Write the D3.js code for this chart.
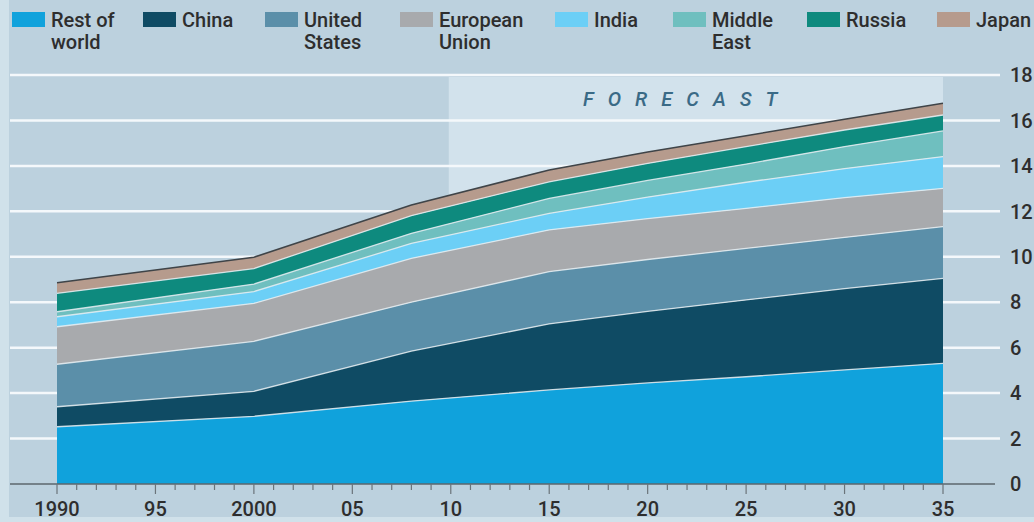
<!DOCTYPE html>
<html>
<head>
<meta charset="utf-8">
<title>Energy demand by region</title>
<script src="https://d3js.org/d3.v7.min.js"></script>
<style>
  body { margin: 0; background: #bcd1de; }
  svg { display: block; font-family: Roboto, "Open Sans", sans-serif; font-weight: 500; }
</style>
</head>
<body>
<script>

// years with data points (forecast from 2010 on)
var years = [1990, 2000, 2008, 2015, 2020, 2025, 2030, 2035];

// values, bottom band first
var restOfWorld  = [2.52, 2.98, 3.65, 4.14, 4.45, 4.72, 5.02, 5.31];
var china        = [0.88, 1.10, 2.20, 2.91, 3.15, 3.38, 3.58, 3.74];
var unitedStates = [1.87, 2.20, 2.15, 2.30, 2.28, 2.27, 2.25, 2.28];
var europeanUnion= [1.65, 1.67, 1.93, 1.83, 1.80, 1.76, 1.75, 1.68];
var india        = [0.44, 0.52, 0.66, 0.73, 0.95, 1.15, 1.28, 1.40];
var middleEast   = [0.22, 0.33, 0.44, 0.66, 0.73, 0.80, 0.97, 1.13];
var russia       = [0.81, 0.68, 0.78, 0.73, 0.75, 0.77, 0.73, 0.70];
var japan        = [0.47, 0.50, 0.47, 0.52, 0.50, 0.48, 0.47, 0.52];

var seriesNames = ["Rest of world", "China", "United States", "European Union",
                   "India", "Middle East", "Russia", "Japan"];
var legendLines = [["Rest of", "world"], ["China"], ["United", "States"], ["European", "Union"],
                   ["India"], ["Middle", "East"], ["Russia"], ["Japan"]];
var colours = ["#10a2dc", "#0f4b64", "#5b8fa9", "#a8aaad",
               "#6ccff6", "#6fbfbf", "#0e8a7e", "#b69b8d"];

var yTicks = [0, 2, 4, 6, 8, 10, 12, 14, 16, 18];
var xMajor = [1990, 1995, 2000, 2005, 2010, 2015, 2020, 2025, 2030, 2035];
var xLabels = ["1990", "95", "2000", "05", "10", "15", "20", "25", "30", "35"];
var forecastStart = 2010;

var w = 1034, h = 522;

// build the table d3.stack wants
var cols = [restOfWorld, china, unitedStates, europeanUnion, india, middleEast, russia, japan];
var table = years.map(function(yr, i) {
  var row = { year: yr };
  seriesNames.forEach(function(n, j) { row[n] = cols[j][i]; });
  return row;
});

var x = d3.scaleLinear().domain([1990, 2035]).range([57, 943]);
var y = d3.scaleLinear().domain([0, 18]).range([484, 75]);

var svg = d3.select("body").append("svg").attr("width", w).attr("height", h);

// lighter border strips at the left and bottom edge
svg.append("rect").attr("x", 0).attr("y", 0).attr("width", 9).attr("height", h).attr("fill", "#d0e1ea");
svg.append("rect").attr("x", 0).attr("y", 517).attr("width", w).attr("height", h - 517).attr("fill", "#d0e1ea");

// forecast panel
svg.append("rect")
  .attr("x", x(forecastStart) - 2)
  .attr("y", y(18) + 2)
  .attr("width", x(2035) - x(forecastStart) + 2)
  .attr("height", y(0) - y(18) - 2)
  .attr("fill", "#d2e2ec");

svg.append("text")
  .attr("x", 583)
  .attr("y", 106)
  .attr("font-size", "20px")
  .attr("font-style", "italic")
  .attr("letter-spacing", "14px")
  .attr("fill", "#3a6a86")
  .text("FORECAST");

// gridlines
svg.selectAll("line.grid").data(yTicks.slice(1)).enter().append("line")
  .attr("class", "grid")
  .attr("x1", 10).attr("x2", 1000)
  .attr("y1", function(d) { return y(d); })
  .attr("y2", function(d) { return y(d); })
  .attr("stroke", "#f4f8fb")
  .attr("stroke-width", 2.5);

// stacked areas
var stack = d3.stack().keys(seriesNames);
var layers = stack(table);

var area = d3.area()
  .x(function(d) { return x(d.data.year); })
  .y0(function(d) { return y(d[0]); })
  .y1(function(d) { return y(d[1]); });

var line = d3.line()
  .x(function(d) { return x(d.data.year); })
  .y(function(d) { return y(d[1]); });

svg.selectAll("path.layer").data(layers).enter().append("path")
  .attr("class", "layer")
  .attr("d", area)
  .attr("fill", function(d, i) { return colours[i]; });

// thin light separators between bands
svg.selectAll("path.sep").data(layers.slice(0, layers.length - 1)).enter().append("path")
  .attr("class", "sep")
  .attr("d", line)
  .attr("fill", "none")
  .attr("stroke", "#e8eef2")
  .attr("stroke-width", 1.3)
  .attr("stroke-opacity", 0.85);

// dark line along the top
svg.append("path")
  .attr("d", line(layers[layers.length - 1]))
  .attr("fill", "none")
  .attr("stroke", "#3f4448")
  .attr("stroke-width", 1.6);

// y labels on the right
svg.selectAll("text.ylab").data(yTicks).enter().append("text")
  .attr("class", "ylab")
  .attr("x", 1010)
  .attr("y", function(d) { return y(d); })
  .attr("dy", "0.36em")
  .attr("font-size", "20px")
  .attr("fill", "#2e2e2e")
  .text(function(d) { return d; });

// x axis line and ticks
svg.append("line")
  .attr("x1", 10).attr("x2", 995)
  .attr("y1", y(0)).attr("y2", y(0))
  .attr("stroke", "#5d666d")
  .attr("stroke-width", 1.5);

svg.selectAll("line.minor").data(d3.range(1990, 2036)).enter().append("line")
  .attr("class", "minor")
  .attr("x1", function(d) { return x(d); })
  .attr("x2", function(d) { return x(d); })
  .attr("y1", y(0))
  .attr("y2", function(d) { return d % 5 === 0 ? y(0) + 10 : y(0) + 6; })
  .attr("stroke", "#6b747a")
  .attr("stroke-width", 1.2);

svg.selectAll("text.xlab").data(xMajor).enter().append("text")
  .attr("class", "xlab")
  .attr("x", function(d) { return x(d); })
  .attr("y", 516)
  .attr("text-anchor", "middle")
  .attr("font-size", "20px")
  .attr("fill", "#2e2e2e")
  .text(function(d, i) { return xLabels[i]; });

// legend
var legendX = [12, 143, 265, 400, 555, 673, 807, 937];
var leg = svg.selectAll("g.leg").data(seriesNames).enter().append("g")
  .attr("class", "leg")
  .attr("transform", function(d, i) { return "translate(" + legendX[i] + ",0)"; });

leg.append("rect")
  .attr("x", 0).attr("y", 12)
  .attr("width", 33).attr("height", 15)
  .attr("fill", function(d, i) { return colours[i]; });

leg.append("text")
  .attr("x", 39)
  .attr("y", 27)
  .attr("font-size", "20px")
  .attr("fill", "#2e2e2e")
  .selectAll("tspan").data(function(d, i) { return legendLines[i]; }).enter().append("tspan")
    .attr("x", 39)
    .attr("dy", function(d, i) { return i === 0 ? 0 : 22; })
    .text(function(d) { return d; });

</script>
</body>
</html>
